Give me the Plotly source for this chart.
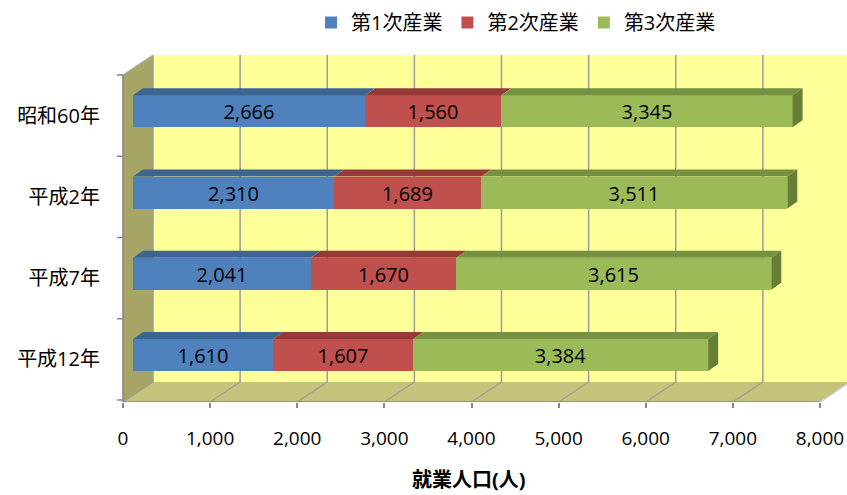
import plotly.graph_objects as go

# ---------------- data ----------------
categories = ["昭和60年", "平成2年", "平成7年", "平成12年"]
series_names = ["第1次産業", "第2次産業", "第3次産業"]
primary = [2666, 2310, 2041, 1610]
secondary = [1560, 1689, 1670, 1607]
tertiary = [3345, 3511, 3615, 3384]
x_ticks = [0, 1000, 2000, 3000, 4000, 5000, 6000, 7000, 8000]
x_title = "就業人口(人)"

# ---------------- style / layout ----------------
front_colors = ["#4F81BD", "#C0504D", "#9BBB59"]
top_colors = ["#3D6594", "#953A38", "#779142"]
side_color = "#667F36"
WALL_BACK = "#FFFF99"
WALL_LEFT = "#A6A565"
FLOOR = "#C4C27B"
GRID = "#9C9C9C"
AXIS = "#868686"
FONT = "Open Sans, Noto Sans CJK JP, sans-serif"

W, H = 847, 495
ML, MR, MT, MB = 117, 0, 0, 93
X0_PX, X8_PX = 123, 820          # pixel of 0 and of 8000 on the front edge
S = (X8_PX - X0_PX) / 8000.0     # px per unit
DEPTH = (30, -20)                # wall depth offset in px
BAR_OFF = 10                     # bar front face offset (px) from front edge
BAR_DEPTH = (10, -7)
ROW_TOP, ROW_H = 75, 81.25
FLOOR_Y, BACK_TOP = 402, 55
BAR_H = 32
BAR_SHIFT = -4.3
PLOT_W = W - ML - MR
PLOT_H = H - MT - MB


def px_to_x(p, origin=X0_PX):
    return (p - origin) / S


x_range = [px_to_x(ML), px_to_x(W - MR)]
x2_range = [px_to_x(ML, X0_PX + BAR_OFF), px_to_x(W - MR, X0_PX + BAR_OFF)]
y_range = [FLOOR_Y, 0]  # y data == pixel y

row_centers = [ROW_TOP + ROW_H * (i + 0.5) for i in range(len(categories))]
bar_centers = [c + BAR_SHIFT for c in row_centers]

series = [primary, secondary, tertiary]

fig = go.Figure()

# front faces of the bars
for k, (name, vals) in enumerate(zip(series_names, series)):
    fig.add_trace(go.Bar(
        x=vals, y=bar_centers, orientation="h", name=name,
        width=BAR_H, marker=dict(color=front_colors[k], line=dict(width=0)),
        text=[f"{v:,}" for v in vals], textposition="inside",
        insidetextanchor="middle", constraintext="none",
        textfont=dict(family=FONT, size=20, color="black"),
        xaxis="x2", yaxis="y", hoverinfo="skip",
    ))

# top faces and end faces (derived from data)
DX = BAR_DEPTH[0] / S
DY = BAR_DEPTH[1]
cum = [0] * len(categories)
for k, vals in enumerate(series):
    xs, ys = [], []
    for i, v in enumerate(vals):
        a, b = cum[i], cum[i] + v
        yt = bar_centers[i] - BAR_H / 2
        xs += [a, b, b + DX, a + DX, a, None]
        ys += [yt, yt, yt + DY, yt + DY, yt, None]
        cum[i] = b
    fig.add_trace(go.Scatter(
        x=xs, y=ys, fill="toself", fillcolor=top_colors[k], mode="lines",
        line=dict(width=0, color=top_colors[k]), xaxis="x2", yaxis="y",
        showlegend=False, hoverinfo="skip",
    ))

xs, ys = [], []
for i in range(len(categories)):
    b = cum[i]
    yt = bar_centers[i] - BAR_H / 2
    yb = bar_centers[i] + BAR_H / 2
    xs += [b, b + DX, b + DX, b, b, None]
    ys += [yt, yt + DY, yb + DY, yb, yt, None]
fig.add_trace(go.Scatter(
    x=xs, y=ys, fill="toself", fillcolor=side_color, mode="lines",
    line=dict(width=0, color=side_color), xaxis="x2", yaxis="y",
    showlegend=False, hoverinfo="skip",
))

# ---------------- walls, floor, grid ----------------
ddx = DEPTH[0] / S
back_bottom = FLOOR_Y + DEPTH[1]
shapes = []
shapes.append(dict(type="path", xref="x", yref="y", layer="below",
                   path=f"M {ddx},{BACK_TOP} L {x_range[1] + 50},{BACK_TOP} L {x_range[1] + 50},{back_bottom} L {ddx},{back_bottom} Z",
                   fillcolor=WALL_BACK, line=dict(width=0)))
shapes.append(dict(type="path", xref="x", yref="y", layer="below",
                   path=f"M 0,{FLOOR_Y} L {x_ticks[-1]},{FLOOR_Y} L {x_ticks[-1] + ddx},{back_bottom} L {ddx},{back_bottom} Z",
                   fillcolor=FLOOR, line=dict(width=0)))
shapes.append(dict(type="path", xref="x", yref="y", layer="below",
                   path=f"M 0,{FLOOR_Y} L 0,{ROW_TOP} L {ddx},{BACK_TOP} L {ddx},{back_bottom} Z",
                   fillcolor=WALL_LEFT, line=dict(width=0)))
for v in x_ticks:
    shapes.append(dict(type="line", xref="x", yref="y", layer="below",
                       x0=v + ddx, x1=v + ddx, y0=BACK_TOP, y1=back_bottom,
                       line=dict(color=GRID, width=1.5)))
    shapes.append(dict(type="line", xref="x", yref="y", layer="below",
                       x0=v, x1=v + ddx, y0=FLOOR_Y, y1=back_bottom,
                       line=dict(color=GRID, width=1.2)))
shapes.append(dict(type="line", xref="x", yref="y", layer="below",
                   x0=0, x1=0, y0=ROW_TOP, y1=FLOOR_Y, line=dict(color=AXIS, width=1.5)))
shapes.append(dict(type="line", xref="x", yref="y", layer="below",
                   x0=0, x1=ddx, y0=ROW_TOP, y1=BACK_TOP, line=dict(color="#B0B0A0", width=1.2)))
shapes.append(dict(type="line", xref="x", yref="y", layer="below",
                   x0=0, x1=x_ticks[-1], y0=FLOOR_Y, y1=FLOOR_Y, line=dict(color=AXIS, width=1.5)))
shapes.append(dict(type="line", xref="x", yref="y", layer="below",
                   x0=x_ticks[-1], x1=x_ticks[-1] + ddx, y0=FLOOR_Y, y1=back_bottom,
                   line=dict(color="#D8D8D8", width=1.2)))
for i in range(len(categories) + 1):
    yb = ROW_TOP + ROW_H * i
    shapes.append(dict(type="line", xref="x", yref="y", layer="below",
                       x0=px_to_x(X0_PX - 6), x1=0, y0=yb, y1=yb,
                       line=dict(color=AXIS, width=1.5)))

fig.update_layout(
    width=W, height=H,
    margin=dict(l=ML, r=MR, t=MT, b=MB, pad=0, autoexpand=False),
    paper_bgcolor="white", plot_bgcolor="rgba(0,0,0,0)",
    barmode="stack", bargap=0,
    shapes=shapes,
    font=dict(family=FONT, size=19, color="black"),
    xaxis=dict(range=x_range, showgrid=False, zeroline=False, showline=False,
               tickvals=x_ticks, ticktext=[f"{v:,}" for v in x_ticks],
               ticks="outside", ticklen=5, tickcolor=AXIS, tickwidth=1.5,
               tickfont=dict(family=FONT, size=19, color="black"),
               ticklabelstandoff=14, automargin=False, fixedrange=True),
    xaxis2=dict(range=x2_range, overlaying="x", visible=False, fixedrange=True),
    yaxis=dict(range=y_range, showgrid=False, zeroline=False, showline=False,
               tickvals=row_centers, ticktext=categories, ticks="",
               tickfont=dict(family=FONT, size=20, color="black"),
               ticklabelstandoff=16, automargin=False, fixedrange=True),
    legend=dict(orientation="h", x=(311 - ML) / PLOT_W, xanchor="left",
                y=1 - 3 / PLOT_H, yanchor="top", font=dict(family=FONT, size=20),
                bgcolor="rgba(0,0,0,0)", traceorder="normal"),
    annotations=[dict(text=f"<b>{x_title}</b>", xref="paper", yref="paper",
                      x=(469 - ML) / PLOT_W, y=0, yshift=-(479 - FLOOR_Y),
                      xanchor="center", yanchor="middle", showarrow=False,
                      font=dict(family=FONT, size=20, color="black"))],
    showlegend=True,
)

fig.write_html("out.html", config={"displayModeBar": False},
               post_script="document.body.style.margin='0';")
